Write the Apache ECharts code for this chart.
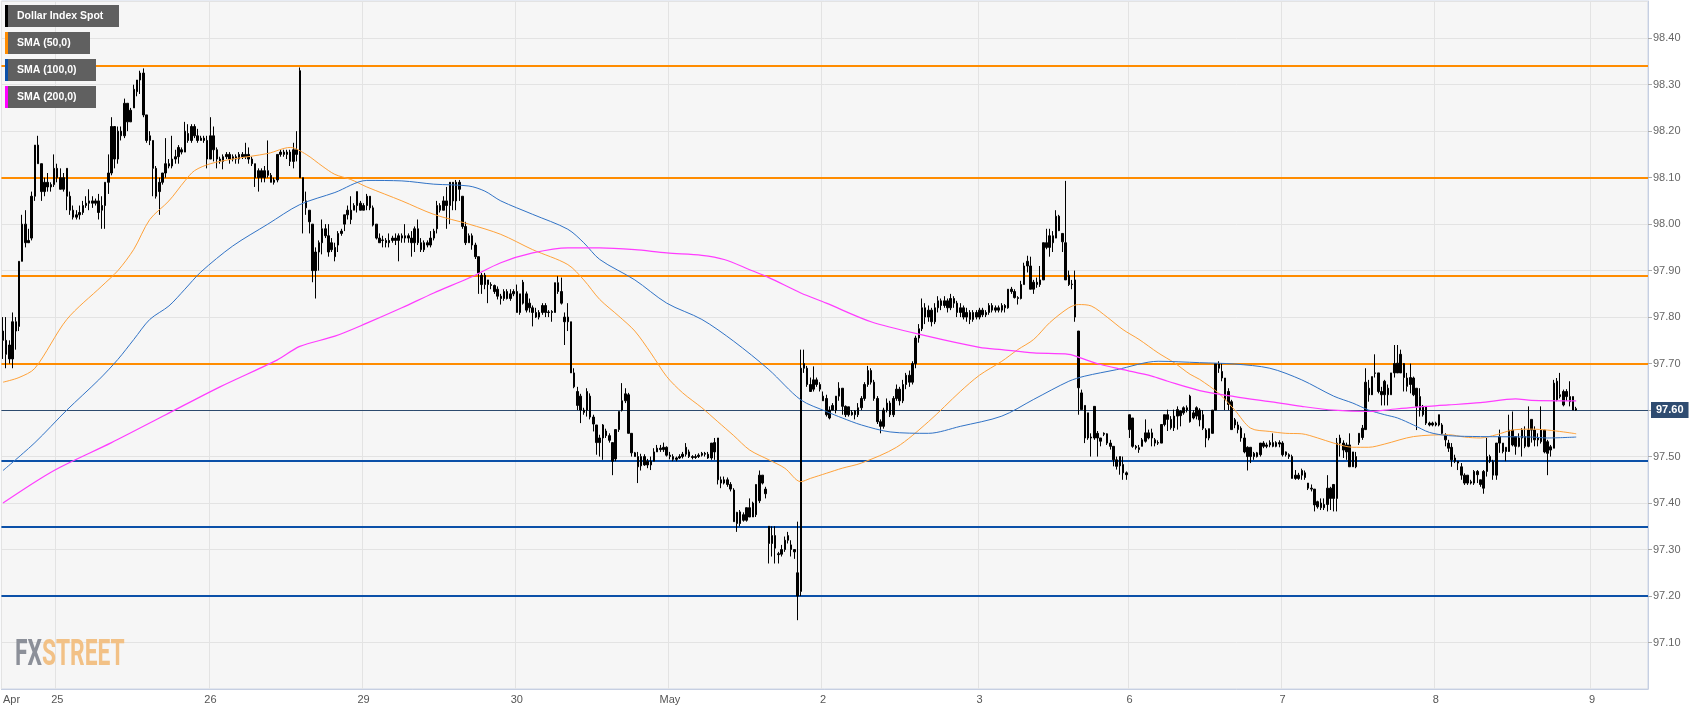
<!DOCTYPE html>
<html><head><meta charset="utf-8">
<script src="https://cdn.jsdelivr.net/npm/echarts@6/dist/echarts.min.js"></script>
<style>html,body{margin:0;padding:0;background:#fff}#c{width:1707px;height:712px}</style>
</head><body><div id="c"></div>
<script>
// day labels: [candle index, label]
const dayTicks = [[0,'Apr'],[17,'25'],[65,'26'],[113,'29'],[161,'30'],[209,'May'],[257,'2'],[306,'3'],[353,'6'],[401,'7'],[449,'8'],[498,'9']];
const slotCount = 516;
// 30-minute candles: [open, close, low, high]
const candles = [
[97.77,97.75,97.71,97.80],[97.75,97.72,97.69,97.80],[97.74,97.71,97.70,97.75],[97.71,97.79,97.69,97.81],[97.79,97.77,97.73,97.80],
[97.78,97.92,97.77,97.92],[97.92,98.00,97.92,98.02],[98.00,97.96,97.95,98.03],[97.96,97.965,97.96,97.99],[97.97,98.06,97.965,98.07],
[98.06,98.17,98.05,98.17],[98.17,98.13,98.13,98.19],[98.13,98.07,98.05,98.13],[98.07,98.09,98.06,98.10],[98.09,98.08,98.07,98.11],
[98.08,98.085,98.07,98.09],[98.085,98.12,98.08,98.15],
[98.12,98.10,98.09,98.13],[98.10,98.075,98.075,98.12],[98.075,98.10,98.07,98.11],[98.12,98.06,98.03,98.12],[98.06,98.03,98.02,98.07],
[98.03,98.015,98.01,98.04],[98.015,98.02,98.01,98.03],[98.02,98.025,98.01,98.04],[98.025,98.04,98.02,98.05],[98.04,98.045,98.035,98.06],
[98.045,98.05,98.03,98.075],[98.05,98.045,98.035,98.06],[98.045,98.05,98.04,98.055],[98.05,98.025,98.01,98.065],[98.03,98.04,97.99,98.06],
[98.04,98.09,97.99,98.09],[98.09,98.11,98.065,98.15],[98.11,98.21,98.105,98.23],[98.21,98.14,98.12,98.21],[98.14,98.20,98.13,98.21],
[98.20,98.19,98.18,98.21],[98.19,98.26,98.185,98.27],[98.26,98.22,98.20,98.26],[98.22,98.245,98.22,98.25],[98.25,98.29,98.25,98.30],
[98.285,98.31,98.275,98.31],[98.31,98.325,98.28,98.33],[98.325,98.235,98.23,98.335],[98.235,98.18,98.175,98.235],[98.18,98.19,98.17,98.20],
[98.18,98.12,98.06,98.18],[98.12,98.06,98.055,98.125],[98.07,98.09,98.02,98.10],[98.09,98.11,98.085,98.11],[98.11,98.13,98.10,98.185],
[98.13,98.125,98.12,98.14],[98.125,98.14,98.12,98.19],[98.14,98.145,98.13,98.16],[98.145,98.165,98.13,98.17],[98.16,98.155,98.15,98.165],
[98.155,98.20,98.155,98.22],[98.195,98.18,98.175,98.215],[98.18,98.21,98.175,98.215],[98.21,98.19,98.185,98.215],[98.19,98.18,98.175,98.205],
[98.18,98.185,98.18,98.19],[98.185,98.18,98.175,98.19],[98.18,98.14,98.12,98.19],
[98.14,98.19,98.14,98.23],[98.19,98.16,98.135,98.21],[98.16,98.14,98.12,98.165],[98.14,98.135,98.13,98.145],[98.135,98.145,98.118,98.15],
[98.145,98.15,98.14,98.155],[98.15,98.14,98.13,98.155],[98.14,98.145,98.135,98.15],[98.145,98.14,98.13,98.15],[98.14,98.15,98.13,98.155],
[98.15,98.145,98.14,98.155],[98.145,98.15,98.14,98.175],[98.15,98.14,98.13,98.165],[98.14,98.13,98.125,98.145],[98.13,98.10,98.08,98.13],
[98.10,98.115,98.07,98.12],[98.115,98.10,98.09,98.12],[98.10,98.115,98.09,98.125],[98.115,98.105,98.10,98.18],[98.105,98.09,98.09,98.11],
[98.09,98.095,98.085,98.10],[98.095,98.15,98.09,98.15],[98.15,98.155,98.145,98.16],[98.155,98.15,98.145,98.16],[98.15,98.155,98.14,98.16],
[98.155,98.135,98.125,98.16],[98.135,98.16,98.12,98.175],[98.16,98.15,98.135,98.20],[98.10,98.33,98.10,98.337],[98.10,98.05,97.98,98.10],
[98.05,98.035,98.02,98.07],[98.03,98.005,97.98,98.03],[98.00,97.90,97.875,98.00],[97.90,97.94,97.84,97.95],[97.94,97.96,97.90,97.965],
[97.96,97.99,97.935,98.01],[97.99,97.975,97.97,98.00],[97.975,97.94,97.93,98.00],[97.945,97.96,97.94,97.97],[97.95,97.93,97.92,97.96],
[97.955,97.98,97.94,97.985],[97.98,97.985,97.975,97.99],[98.00,98.02,97.985,98.02],[98.02,98.03,98.01,98.04],[98.03,98.01,98.00,98.06],
[98.03,98.04,98.03,98.045],[98.04,98.07,98.025,98.07],[98.045,98.03,98.03,98.05],
[98.03,98.04,98.03,98.045],[98.04,98.06,98.03,98.065],[98.06,98.035,98.03,98.06],[98.035,97.998,97.995,98.04],[98.00,97.97,97.967,98.00],
[97.97,97.96,97.96,97.98],[97.965,97.966,97.95,97.975],[97.965,97.96,97.95,97.97],[97.96,97.965,97.95,97.98],[97.965,97.97,97.96,97.975],
[97.97,97.965,97.955,97.98],[97.965,97.975,97.92,97.98],[97.975,97.97,97.96,97.98],[97.97,97.975,97.96,98.00],[97.975,97.97,97.96,97.98],
[97.97,97.96,97.93,97.985],[97.96,97.99,97.94,97.995],[97.99,97.96,97.955,98.01],[97.96,97.945,97.94,97.97],[97.945,97.96,97.94,97.965],
[97.96,97.955,97.95,97.965],[97.955,97.97,97.95,97.985],[97.97,97.985,97.965,97.99],[97.99,98.04,97.98,98.05],[98.04,98.03,98.025,98.045],
[98.03,98.05,98.03,98.06],[98.05,98.04,97.99,98.08],[98.04,98.09,98.00,98.09],[98.09,98.05,98.03,98.09],[98.05,98.09,98.03,98.095],
[98.09,98.075,98.05,98.095],[98.06,97.995,97.99,98.06],[97.995,97.96,97.955,98.005],[97.96,97.975,97.96,97.98],[97.975,97.955,97.945,97.98],
[97.955,97.93,97.925,97.96],[97.93,97.895,97.85,97.93],[97.89,97.87,97.85,97.895],[97.87,97.89,97.86,97.895],[97.88,97.87,97.83,97.88],
[97.87,97.868,97.86,97.875],[97.868,97.855,97.85,97.87],[97.86,97.845,97.838,97.866],[97.845,97.84,97.827,97.85],[97.84,97.855,97.835,97.86],
[97.855,97.84,97.838,97.86],[97.84,97.85,97.835,97.86],[97.85,97.855,97.845,97.86],
[97.855,97.81,97.81,97.87],[97.81,97.85,97.805,97.85],[97.83,97.875,97.827,97.88],[97.85,97.815,97.81,97.855],[97.82,97.83,97.81,97.84],
[97.82,97.81,97.78,97.825],[97.81,97.80,97.798,97.82],[97.80,97.81,97.795,97.815],[97.81,97.825,97.805,97.83],[97.825,97.81,97.80,97.83],
[97.81,97.811,97.80,97.815],[97.81,97.812,97.79,97.815],[97.81,97.874,97.81,97.874],[97.874,97.855,97.85,97.888],[97.855,97.83,97.827,97.885],
[97.80,97.79,97.74,97.81],[97.79,97.80,97.77,97.83],[97.79,97.68,97.68,97.79],[97.68,97.65,97.647,97.69],[97.64,97.61,97.60,97.65],
[97.63,97.60,97.572,97.635],[97.60,97.595,97.59,97.605],[97.60,97.64,97.586,97.647],[97.63,97.585,97.58,97.636],[97.585,97.57,97.554,97.59],
[97.568,97.53,97.504,97.568],[97.53,97.54,97.50,97.547],[97.54,97.568,97.493,97.57],[97.555,97.545,97.54,97.56],[97.545,97.535,97.53,97.55],
[97.53,97.49,97.46,97.53],[97.495,97.558,97.49,97.558],[97.558,97.597,97.553,97.597],[97.60,97.62,97.597,97.658],[97.62,97.635,97.615,97.647],
[97.633,97.55,97.55,97.637],[97.55,97.508,97.50,97.55],[97.508,97.50,97.50,97.51],[97.50,97.478,97.443,97.51],[97.48,97.50,97.47,97.506],
[97.50,97.482,97.48,97.505],[97.482,97.49,97.475,97.495],[97.49,97.482,97.471,97.50],[97.49,97.51,97.49,97.518],[97.51,97.518,97.51,97.525],
[97.518,97.515,97.51,97.525],[97.515,97.52,97.51,97.53],[97.52,97.503,97.50,97.522],
[97.503,97.50,97.494,97.51],[97.50,97.494,97.49,97.505],[97.494,97.497,97.49,97.50],[97.497,97.50,97.495,97.505],[97.50,97.505,97.496,97.51],
[97.505,97.52,97.50,97.529],[97.51,97.50,97.497,97.515],[97.50,97.498,97.494,97.503],[97.498,97.50,97.495,97.505],[97.50,97.503,97.497,97.507],
[97.503,97.507,97.50,97.51],[97.507,97.505,97.50,97.51],[97.505,97.497,97.495,97.51],[97.497,97.529,97.493,97.529],[97.53,97.51,97.493,97.54],
[97.54,97.45,97.44,97.54],[97.45,97.443,97.432,97.457],[97.443,97.45,97.44,97.457],[97.45,97.44,97.435,97.455],[97.44,97.43,97.425,97.445],
[97.428,97.36,97.36,97.432],[97.38,97.356,97.338,97.381],[97.356,97.381,97.35,97.385],[97.375,97.363,97.36,97.38],[97.363,97.39,97.36,97.39],
[97.39,97.37,97.37,97.41],[97.37,97.40,97.37,97.403],[97.375,97.44,97.37,97.44],[97.405,97.46,97.40,97.47],[97.46,97.443,97.44,97.46],
[97.43,97.42,97.41,97.435],[97.35,97.313,97.27,97.35],[97.33,97.313,97.285,97.35],[97.33,97.303,97.27,97.35],[97.291,97.289,97.27,97.295],
[97.29,97.30,97.285,97.31],[97.30,97.32,97.295,97.328],[97.32,97.33,97.313,97.338],[97.31,97.30,97.285,97.32],[97.30,97.295,97.28,97.30],
[97.25,97.20,97.148,97.36],[97.21,97.69,97.20,97.73],[97.69,97.70,97.68,97.73],[97.69,97.655,97.65,97.695],[97.655,97.64,97.64,97.67],
[97.645,97.665,97.64,97.694],[97.665,97.655,97.65,97.67],[97.655,97.645,97.64,97.66],
[97.63,97.62,97.62,97.64],[97.625,97.59,97.586,97.633],[97.60,97.583,97.58,97.608],[97.60,97.61,97.60,97.615],[97.60,97.63,97.593,97.63],
[97.63,97.647,97.62,97.66],[97.647,97.608,97.59,97.647],[97.608,97.59,97.585,97.61],[97.607,97.59,97.586,97.607],[97.59,97.595,97.588,97.60],
[97.598,97.59,97.58,97.60],[97.59,97.605,97.585,97.615],[97.605,97.625,97.60,97.63],[97.625,97.655,97.62,97.66],[97.655,97.685,97.65,97.695],
[97.685,97.66,97.655,97.69],[97.66,97.625,97.62,97.665],[97.625,97.575,97.57,97.63],[97.575,97.565,97.55,97.58],[97.565,97.60,97.56,97.605],
[97.60,97.615,97.595,97.625],[97.615,97.59,97.585,97.62],[97.59,97.625,97.585,97.63],[97.625,97.645,97.62,97.655],[97.645,97.62,97.61,97.65],
[97.62,97.655,97.615,97.665],[97.655,97.675,97.645,97.68],[97.675,97.66,97.65,97.685],[97.66,97.70,97.655,97.705],[97.70,97.755,97.69,97.76],
[97.755,97.775,97.745,97.785],[97.775,97.82,97.77,97.84],[97.82,97.80,97.785,97.83],[97.80,97.815,97.79,97.825],[97.815,97.79,97.78,97.82],
[97.79,97.82,97.785,97.83],[97.82,97.835,97.81,97.845],[97.835,97.825,97.815,97.84],[97.825,97.835,97.82,97.845],[97.835,97.82,97.81,97.84],
[97.82,97.84,97.815,97.85],[97.84,97.83,97.82,97.845],[97.83,97.81,97.80,97.835],[97.81,97.82,97.80,97.83],[97.82,97.80,97.795,97.825],
[97.80,97.81,97.79,97.82],[97.81,97.795,97.785,97.815],[97.795,97.81,97.79,97.815],
[97.81,97.80,97.795,97.815],[97.80,97.815,97.795,97.82],[97.815,97.805,97.80,97.82],[97.805,97.81,97.80,97.815],[97.81,97.825,97.805,97.83],
[97.825,97.815,97.81,97.83],[97.815,97.82,97.81,97.825],[97.82,97.815,97.81,97.825],[97.815,97.825,97.81,97.83],[97.825,97.82,97.81,97.828],
[97.82,97.86,97.818,97.86],[97.86,97.855,97.85,97.865],[97.855,97.842,97.84,97.86],[97.842,97.84,97.827,97.845],[97.84,97.87,97.838,97.878],
[97.87,97.91,97.87,97.917],[97.91,97.92,97.896,97.932],[97.91,97.86,97.86,97.93],[97.86,97.875,97.85,97.88],[97.875,97.87,97.863,97.885],
[97.87,97.88,97.865,97.91],[97.88,97.96,97.88,97.96],[97.96,97.95,97.946,97.99],[97.95,97.975,97.93,97.99],[97.975,97.96,97.94,97.985],
[97.97,98.017,97.985,98.03],[98.017,97.986,97.985,98.02],[97.98,97.962,97.94,97.98],[97.96,97.88,97.88,98.093],[97.89,97.87,97.867,97.90],
[97.87,97.871,97.86,97.88],[97.88,97.80,97.79,97.90],[97.77,97.648,97.59,97.77],[97.637,97.601,97.601,97.644],[97.61,97.54,97.529,97.61],
[97.594,97.54,97.536,97.594],[97.54,97.542,97.50,97.55],[97.54,97.608,97.536,97.608],[97.55,97.54,97.50,97.555],[97.54,97.533,97.522,97.54],
[97.55,97.548,97.544,97.552],[97.549,97.529,97.525,97.55],[97.529,97.522,97.515,97.536],[97.522,97.493,97.479,97.522],[97.493,97.479,97.472,97.50],
[97.48,97.50,97.461,97.50],[97.483,97.465,97.45,97.50],[97.465,97.461,97.45,97.468],
[97.558,97.59,97.54,97.59],[97.583,97.522,97.519,97.583],[97.522,97.519,97.515,97.525],[97.519,97.515,97.508,97.525],[97.536,97.522,97.522,97.54],
[97.533,97.551,97.53,97.58],[97.551,97.54,97.537,97.558],[97.54,97.551,97.522,97.56],[97.536,97.529,97.522,97.54],[97.529,97.53,97.525,97.535],
[97.529,97.569,97.529,97.569],[97.569,97.59,97.565,97.59],[97.59,97.58,97.555,97.601],[97.58,97.562,97.558,97.587],[97.562,97.587,97.555,97.601],
[97.587,97.601,97.558,97.608],[97.598,97.588,97.565,97.60],[97.594,97.605,97.59,97.608],[97.605,97.60,97.595,97.61],[97.575,97.63,97.573,97.633],
[97.594,97.583,97.58,97.60],[97.605,97.587,97.58,97.608],[97.60,97.579,97.565,97.604],[97.59,97.561,97.557,97.60],[97.557,97.54,97.52,97.561],
[97.56,97.54,97.535,97.56],[97.55,97.60,97.55,97.60],[97.60,97.70,97.60,97.70],[97.70,97.69,97.68,97.705],[97.683,97.669,97.662,97.701],
[97.669,97.622,97.60,97.669],[97.64,97.612,97.60,97.647],[97.618,97.558,97.558,97.622],[97.579,97.568,97.561,97.583],[97.568,97.558,97.55,97.575],
[97.561,97.54,97.532,97.565],[97.54,97.51,97.507,97.55],[97.52,97.50,97.47,97.522],[97.50,97.52,97.486,97.52],[97.507,97.50,97.493,97.51],
[97.50,97.508,97.498,97.51],[97.504,97.529,97.50,97.529],[97.529,97.522,97.518,97.533],[97.522,97.525,97.518,97.53],[97.525,97.53,97.52,97.535],
[97.53,97.522,97.52,97.55],[97.522,97.53,97.52,97.533],[97.53,97.527,97.52,97.535],
[97.529,97.504,97.50,97.533],[97.51,97.504,97.50,97.511],[97.504,97.50,97.495,97.507],[97.50,97.453,97.453,97.504],[97.46,97.453,97.45,97.471],
[97.453,97.46,97.45,97.465],[97.46,97.47,97.45,97.474],[97.465,97.455,97.45,97.47],[97.443,97.432,97.428,97.443],[97.432,97.43,97.425,97.44],
[97.43,97.396,97.382,97.43],[97.403,97.392,97.388,97.405],[97.40,97.39,97.385,97.41],[97.39,97.397,97.385,97.41],[97.397,97.432,97.382,97.46],
[97.432,97.41,97.385,97.435],[97.41,97.44,97.382,97.44],[97.41,97.529,97.382,97.54],[97.529,97.54,97.50,97.547],[97.529,97.514,97.497,97.535],
[97.525,97.51,97.493,97.53],[97.525,97.478,97.478,97.55],[97.51,97.478,97.478,97.51],[97.478,97.50,97.475,97.51],[97.53,97.55,97.525,97.55],
[97.541,97.561,97.536,97.568],[97.558,97.66,97.558,97.69],[97.647,97.633,97.618,97.665],[97.633,97.672,97.636,97.672],[97.68,97.679,97.67,97.72],
[97.68,97.64,97.636,97.68],[97.64,97.633,97.61,97.65],[97.633,97.662,97.61,97.665],[97.647,97.633,97.61,97.655],[97.633,97.68,97.633,97.68],
[97.68,97.70,97.67,97.74],[97.701,97.68,97.68,97.74],[97.68,97.72,97.68,97.73],[97.70,97.67,97.64,97.701],[97.669,97.651,97.64,97.68],
[97.655,97.67,97.636,97.70],[97.669,97.633,97.63,97.672],[97.647,97.608,97.557,97.647],[97.629,97.60,97.586,97.647],[97.608,97.59,97.586,97.611],
[97.608,97.572,97.568,97.608],[97.572,97.568,97.565,97.575],[97.568,97.572,97.565,97.575],
[97.572,97.568,97.565,97.575],[97.568,97.59,97.565,97.59],[97.568,97.55,97.547,97.572],[97.546,97.536,97.522,97.55],[97.529,97.518,97.51,97.536],
[97.52,97.493,97.478,97.529],[97.497,97.49,97.486,97.504],[97.49,97.486,97.471,97.49],[97.478,97.46,97.45,97.486],[97.46,97.443,97.439,97.464],
[97.46,97.443,97.439,97.46],[97.443,97.446,97.44,97.45],[97.443,97.468,97.439,97.471],[97.468,97.461,97.443,97.471],[97.45,97.44,97.435,97.45],
[97.468,97.432,97.42,97.471],[97.468,97.50,97.457,97.54],[97.50,97.49,97.486,97.504],[97.489,97.46,97.45,97.493],[97.46,97.529,97.45,97.529],
[97.529,97.543,97.508,97.558],[97.529,97.511,97.507,97.529],[97.52,97.511,97.49,97.52],[97.511,97.557,97.514,97.59],[97.557,97.525,97.522,97.597],
[97.543,97.522,97.504,97.543],[97.522,97.54,97.52,97.55],[97.54,97.557,97.50,97.561],[97.543,97.522,97.518,97.565],[97.522,97.557,97.52,97.608],
[97.557,97.58,97.53,97.58],[97.557,97.536,97.522,97.565],[97.536,97.54,97.522,97.55],[97.557,97.532,97.528,97.608],[97.557,97.51,97.507,97.557],
[97.532,97.507,97.46,97.536],[97.521,97.514,97.50,97.525],[97.518,97.658,97.518,97.665],[97.662,97.622,97.619,97.669],[97.633,97.629,97.625,97.68],
[97.64,97.611,97.608,97.644],[97.629,97.64,97.62,97.645],[97.629,97.618,97.608,97.662],[97.629,97.60,97.60,97.629],[97.60,97.603,97.598,97.607]
];
// moving averages: [candle index, value]
const sma50 = [[0,97.66],[5,97.67],[10,97.69],[20,97.795],[31,97.867],[36,97.90],[41,97.946],[46,98.01],[52,98.05],[57,98.093],[60,98.115],[65,98.13],[72,98.14],[83,98.152],[90,98.165],[95,98.15],[100,98.125],[104,98.107],[109,98.096],[114,98.08],[125,98.05],[135,98.021],[146,98.0],[156,97.978],[166,97.945],[177,97.913],[182,97.88],[187,97.838],[193,97.802],[198,97.77],[203,97.723],[208,97.672],[213,97.637],[219,97.605],[224,97.575],[229,97.545],[234,97.514],[240,97.493],[245,97.475],[250,97.446],[253,97.453],[258,97.464],[263,97.475],[269,97.486],[280,97.52],[290,97.575],[300,97.64],[306,97.675],[313,97.705],[318,97.73],[323,97.752],[328,97.788],[334,97.82],[337,97.827],[341,97.824],[346,97.80],[351,97.773],[356,97.752],[362,97.723],[367,97.702],[372,97.677],[375,97.666],[381,97.636],[386,97.60],[391,97.561],[397,97.554],[402,97.55],[407,97.549],[412,97.54],[417,97.529],[423,97.52],[428,97.52],[433,97.527],[442,97.543],[453,97.547],[458,97.542],[463,97.54],[468,97.547],[473,97.557],[479,97.559],[484,97.557],[489,97.553],[493,97.549]];
const sma100 = [[0,97.47],[10,97.53],[20,97.60],[30,97.665],[36,97.709],[41,97.752],[46,97.795],[52,97.824],[57,97.86],[62,97.897],[72,97.953],[83,98.0],[93,98.042],[104,98.068],[114,98.094],[125,98.093],[135,98.086],[146,98.082],[151,98.071],[156,98.05],[166,98.021],[177,97.989],[182,97.96],[187,97.924],[198,97.88],[208,97.83],[219,97.795],[229,97.748],[240,97.687],[250,97.622],[258,97.597],[263,97.583],[269,97.568],[278,97.553],[290,97.55],[300,97.565],[313,97.587],[323,97.623],[334,97.662],[339,97.673],[349,97.687],[362,97.705],[375,97.702],[386,97.699],[397,97.69],[407,97.665],[417,97.63],[423,97.615],[428,97.60],[433,97.59],[437,97.583],[442,97.568],[447,97.552],[453,97.545],[463,97.543],[479,97.542],[484,97.54],[493,97.542]];
const sma200 = [[0,97.40],[16,97.47],[34,97.53],[51,97.59],[68,97.65],[86,97.708],[93,97.737],[104,97.759],[114,97.787],[125,97.82],[135,97.852],[146,97.884],[156,97.917],[166,97.938],[177,97.949],[187,97.949],[198,97.945],[208,97.938],[219,97.933],[226,97.924],[234,97.902],[240,97.885],[250,97.852],[258,97.83],[272,97.79],[289,97.76],[306,97.735],[313,97.73],[323,97.723],[334,97.72],[339,97.709],[344,97.698],[351,97.687],[360,97.673],[365,97.662],[375,97.642],[386,97.629],[397,97.618],[407,97.608],[417,97.60],[428,97.597],[433,97.60],[442,97.606],[453,97.611],[463,97.616],[474,97.624],[479,97.621],[493,97.62]];
const orangeLevels = [98.339, 98.097, 97.895, 97.70];
const blueLevels = [97.493, 97.352, 97.205];
const lastPrice = 97.60;
const legendNames = ['Dollar Index Spot', 'SMA (50,0)', 'SMA (100,0)', 'SMA (200,0)'];

const tickMap = {};
dayTicks.forEach(d => { tickMap[d[0]] = d[1]; });
const isTick = (i) => tickMap.hasOwnProperty(i);
const categories = [];
for (let i = 0; i < slotCount; i++) categories.push(String(i));

const FONT = 'Liberation Sans, Arial, sans-serif';
const legendColors = ['#000000', '#ff8c00', '#0b50a8', '#ff00ff'];
const legendWidths = [114, 85, 91, 91];
const legendTops = [5, 32, 59, 86];
const graphics = [];
legendNames.forEach((n, k) => {
  graphics.push({type:'rect', shape:{x:5, y:legendTops[k], width:legendWidths[k], height:22}, style:{fill:'#606060'}, z:100});
  graphics.push({type:'rect', shape:{x:5, y:legendTops[k], width:3, height:22}, style:{fill:legendColors[k]}, z:101});
  graphics.push({type:'text', x:17, y:legendTops[k] + 11, z:102,
    style:{text:n, fill:'#ffffff', fontSize:10.5, fontWeight:'bold', fontFamily:FONT, verticalAlign:'middle', align:'left'}});
});
graphics.push({type:'text', x:15, y:656, scaleX:0.633, z:1,
  style:{text:'{a|FX}{b|STREET}', fontSize:36, fontWeight:'bold', fontFamily:'Roboto, sans-serif', verticalAlign:'middle',
    rich:{a:{fill:'#8c9099', fontSize:36, fontWeight:'bold', fontFamily:'Roboto, sans-serif'}, b:{fill:'#f2c186', fontSize:36, fontWeight:'bold', fontFamily:'Roboto, sans-serif'}}}});

const levelLines = [];
orangeLevels.forEach(v => levelLines.push({yAxis:v, lineStyle:{color:'#ff8c00', width:2, type:'solid'}, label:{show:false}}));
blueLevels.forEach(v => levelLines.push({yAxis:v, lineStyle:{color:'#0b50a8', width:2, type:'solid'}, label:{show:false}}));
levelLines.push({yAxis:lastPrice, lineStyle:{color:'#2c4a6e', width:1, type:'solid'},
  label:{show:true, position:'end', formatter:lastPrice.toFixed(2), color:'#fff', backgroundColor:'#2e4b70', padding:[3,5,2,5], fontSize:11, fontWeight:'bold', fontFamily:FONT, distance:3}});

const chart = echarts.init(document.getElementById('c'), null, {renderer:'canvas'});
chart.setOption({
  animation:false,
  backgroundColor:'#ffffff',
  grid:{left:1, right:59, top:1, bottom:23, show:true, backgroundColor:'#f6f6f6', borderColor:'#cfd6e6', borderWidth:1, containLabel:false},
  xAxis:{type:'category', data:categories, boundaryGap:true,
    axisLine:{lineStyle:{color:'#c6cfe2'}},
    axisTick:{alignWithLabel:true, interval:(i)=>isTick(i), length:4, lineStyle:{color:'#c6cfe2'}},
    axisLabel:{interval:(i)=>isTick(i), formatter:(v,i)=>tickMap[i]||'', color:'#555', fontSize:11, fontFamily:FONT, margin:5, alignMinLabel:'left'},
    splitLine:{show:true, interval:(i)=>isTick(i), lineStyle:{color:'#e3e3e3'}}},
  yAxis:{type:'value', position:'right', min:97.0, max:98.48, interval:0.1, scale:true,
    axisLine:{show:true, lineStyle:{color:'#c6cfe2'}},
    axisTick:{show:true, length:4, lineStyle:{color:'#aaaaaa'}},
    axisLabel:{color:'#666', fontSize:11, fontFamily:FONT, margin:5, showMinLabel:false, showMaxLabel:false, formatter:(v)=>v.toFixed(2)},
    splitLine:{show:true, lineStyle:{color:'#e3e3e3'}}},
  graphic:graphics,
  series:[
    {type:'candlestick', data:candles, barWidth:2, z:3, silent:true,
      itemStyle:{color:'#000', color0:'#000', borderColor:'#000', borderColor0:'#000', borderWidth:1},
      markLine:{silent:true, symbol:'none', animation:false, data:levelLines, z:2}},
    {type:'line', data:sma50, showSymbol:false, smooth:0.3, silent:true, z:4, lineStyle:{color:'#ffa23a', width:1}},
    {type:'line', data:sma100, showSymbol:false, smooth:0.3, silent:true, z:4, lineStyle:{color:'#3173c6', width:1}},
    {type:'line', data:sma200, showSymbol:false, smooth:0.3, silent:true, z:4, lineStyle:{color:'#ff3cff', width:1.2}}
  ]
});
</script></body></html>
